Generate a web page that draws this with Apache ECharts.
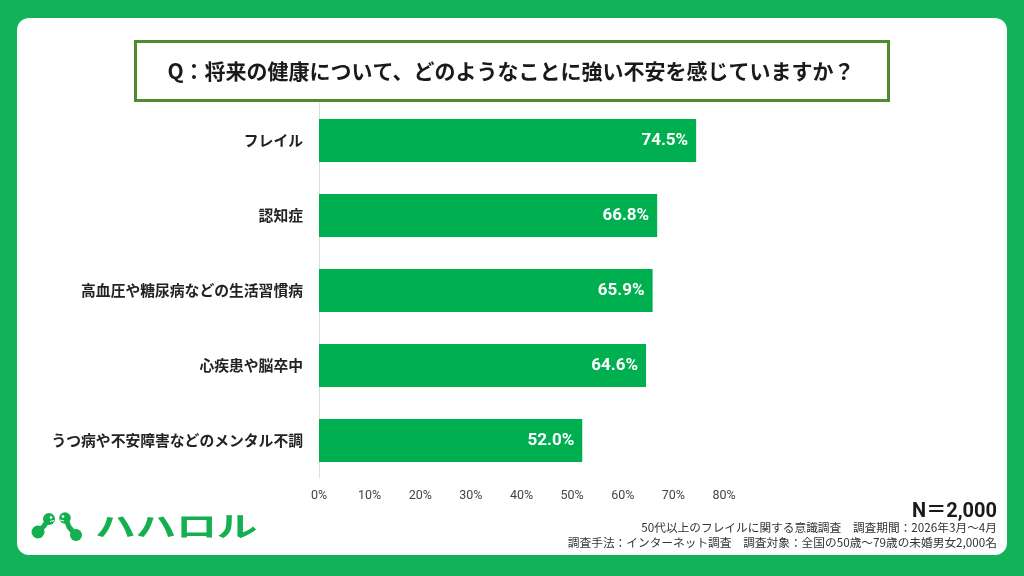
<!DOCTYPE html>
<html><head><meta charset="utf-8">
<script src="https://cdn.jsdelivr.net/npm/echarts@6/dist/echarts.min.js"></script>
<style>html,body{margin:0;padding:0;background:#12b25a;}#c{width:1024px;height:576px;}</style>
</head><body><div id="c"></div>
<script>
const categories = ['フレイル','認知症','高血圧や糖尿病などの生活習慣病','心疾患や脳卒中','うつ病や不安障害などのメンタル不調'];
const values = [74.5, 66.8, 65.9, 64.6, 52.0];
const tickLabels = ['0%','10%','20%','30%','40%','50%','60%','70%','80%'];
const titleText = 'Q：将来の健康について、どのようなことに強い不安を感じていますか？';
const sampleText = 'N＝2,000';
const note1 = '50代以上のフレイルに関する意識調査　調査期間：2026年3月～4月';
const note2 = '調査手法：インターネット調査　調査対象：全国の50歳～79歳の未婚男女2,000名';
const logoText = 'ハハロル';

const F = '"Noto Sans CJK JP", "Noto Sans", sans-serif';
const R = 'Roboto, "Noto Sans CJK JP", sans-serif';
const G = '#14b04f';
const chart = echarts.init(document.getElementById('c'));
const logoShapes = [
  // left creature
  {type:'polyline', shape:{points:[[48,520],[44,526],[39,531]]}, style:{stroke:G, lineWidth:5, fill:null, lineCap:'round', lineJoin:'round'}},
  {type:'circle', shape:{cx:49, cy:519, r:6}, style:{fill:G}},
  {type:'circle', shape:{cx:38, cy:532, r:6.5}, style:{fill:G}},
  {type:'circle', shape:{cx:51, cy:517.5, r:1.3}, style:{fill:'#fff'}},
  {type:'line', shape:{x1:50, y1:521.5, x2:54, y2:520.5}, style:{stroke:'#fff', lineWidth:1}},
  // right creature
  {type:'polyline', shape:{points:[[66,519],[69,527],[75,534]]}, style:{stroke:G, lineWidth:5, fill:null, lineCap:'round', lineJoin:'round'}},
  {type:'circle', shape:{cx:65, cy:518, r:5.8}, style:{fill:G}},
  {type:'circle', shape:{cx:76, cy:535, r:6}, style:{fill:G}},
  {type:'circle', shape:{cx:63, cy:516.5, r:1.3}, style:{fill:'#fff'}},
  {type:'line', shape:{x1:60, y1:520, x2:64, y2:521}, style:{stroke:'#fff', lineWidth:1}}
];
const option = {
  backgroundColor: '#12b25a',
  animation: false,
  graphic: [
    {type:'rect', z:-10, shape:{x:17, y:18, width:990, height:537, r:12}, style:{fill:'#ffffff'}},
    {type:'rect', shape:{x:135.5, y:41.5, width:753, height:59}, style:{fill:'#fff', stroke:'#4f8a2f', lineWidth:3}},
    {type:'text', style:{text:titleText, x:511, y:71, textAlign:'center', textVerticalAlign:'middle', font:'bold 21px ' + F, fill:'#1a1a1a'}},
    {type:'text', style:{text:sampleText, x:997, y:512, textAlign:'right', textVerticalAlign:'middle', font:'bold 20px ' + R, fill:'#1a1a1a'}},
    {type:'text', style:{text:note1, x:997, y:528, textAlign:'right', textVerticalAlign:'middle', font:'11.7px ' + F, fill:'#333'}},
    {type:'text', style:{text:note2, x:997, y:543, textAlign:'right', textVerticalAlign:'middle', font:'11.7px ' + F, fill:'#333'}},
    {type:'text', x:95, y:526, scaleX:1.45, style:{text:logoText, x:0, y:0, textAlign:'left', textVerticalAlign:'middle', font:'bold 28px ' + F, fill:G}},
    ...logoShapes
  ],
  grid: {left:319, right:300, top:103, bottom:98, containLabel:false},
  xAxis: {
    type:'value', min:0, max:80, interval:10,
    axisLine:{show:false}, axisTick:{show:false}, splitLine:{show:false},
    axisLabel:{formatter:(v)=>tickLabels[v/10], color:'#444', fontSize:12.5, fontFamily:R, margin:12}
  },
  yAxis: {
    type:'category', data:categories, inverse:true,
    axisLine:{show:true, lineStyle:{color:'#dddddd', width:1}},
    axisTick:{show:false},
    axisLabel:{color:'#222', fontSize:14.8, fontWeight:'bold', fontFamily:F, margin:16}
  },
  series: [{
    type:'bar', data:values, barWidth:43,
    itemStyle:{color:'#00b050'},
    label:{show:true, position:'insideRight', offset:[-3,0], formatter:(p)=>p.value.toFixed(1)+'%', color:'#fff', fontSize:17, fontWeight:'bold', fontFamily:R}
  }]
};
chart.setOption(option);
</script></body></html>
